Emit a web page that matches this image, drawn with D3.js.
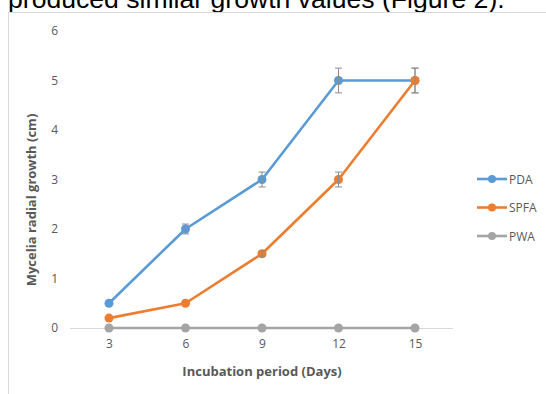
<!DOCTYPE html>
<html>
<head>
<meta charset="utf-8">
<script src="https://cdn.jsdelivr.net/npm/d3@7"></script>
<style>
  body { margin: 0; background: #fff; }
  svg { display: block; }
</style>
</head>
<body>
<svg id="chart" width="546" height="394"></svg>
<script>
// chart data
var days = [3, 6, 9, 12, 15];
var pda = [0.5, 2, 3, 5, 5];
var pdaErr = [0.02, 0.1, 0.15, 0.25, 0.25];
var spfa = [0.2, 0.5, 1.5, 3, 5];
var spfaErr = [0.02, 0.03, 0.05, 0.15, 0.25];
var pwa = [0, 0, 0, 0, 0];
var pwaErr = [0, 0, 0, 0, 0];
var yTicks = [0, 1, 2, 3, 4, 5, 6];

var seriesList = [
    {name: "PDA", values: pda, err: pdaErr, color: "#5b9bd5"},
    {name: "SPFA", values: spfa, err: spfaErr, color: "#ed7d31"},
    {name: "PWA", values: pwa, err: pwaErr, color: "#a5a5a5"}
];

var svg = d3.select("#chart");

// page text above the figure (cut off at the top, like the scan)
svg.append("text")
    .attr("x", 8)
    .attr("y", 8)
    .attr("font-family", "Liberation Sans, Arial, sans-serif")
    .attr("font-size", 26.6)
    .attr("fill", "#000")
    .text("produced similar growth values (Figure 2).");

// chart frame
svg.append("rect")
    .attr("x", 8.5)
    .attr("y", 12.5)
    .attr("width", 560)
    .attr("height", 400)
    .attr("fill", "#fff")
    .attr("stroke", "#d9d9d9");

var x = d3.scalePoint()
    .domain(days)
    .range([109, 415]);

var y = d3.scaleLinear()
    .domain([0, 6])
    .range([328, 31]);

var font = "'Open Sans', Lato, sans-serif";

// y axis tick labels
var yAxis = d3.axisLeft(y).tickValues(yTicks).tickFormat(d3.format("d")).tickSize(0).tickPadding(0);
var gy = svg.append("g")
    .attr("transform", "translate(58,0)")
    .call(yAxis);
gy.select(".domain").remove();
gy.selectAll("text")
    .attr("font-family", font)
    .attr("font-size", 12)
    .attr("fill", "#595959");

// x axis baseline + labels
var xAxis = d3.axisBottom(x).tickSize(0).tickPadding(11);
var gx = svg.append("g")
    .attr("transform", "translate(0," + y(0) + ")")
    .call(xAxis);
gx.select(".domain").remove();
gx.selectAll("text")
    .attr("font-family", font)
    .attr("font-size", 12)
    .attr("fill", "#595959");

svg.append("line")
    .attr("x1", 70)
    .attr("x2", 453)
    .attr("y1", y(0) + 0.5)
    .attr("y2", y(0) + 0.5)
    .attr("stroke", "#d9d9d9");

// axis titles
svg.append("text")
    .attr("x", 262)
    .attr("y", 376)
    .attr("text-anchor", "middle")
    .attr("font-family", font)
    .attr("font-size", 13)
    .attr("font-weight", "bold")
    .attr("fill", "#595959")
    .text("Incubation period (Days)");

svg.append("text")
    .attr("transform", "translate(36,200) rotate(-90)")
    .attr("text-anchor", "middle")
    .attr("font-family", font)
    .attr("font-size", 13)
    .attr("font-weight", "bold")
    .attr("fill", "#595959")
    .text("Mycelia radial growth (cm)");

var line = d3.line()
    .x(function(d, i) { return x(days[i]); })
    .y(function(d) { return y(d); });

// series drawn bottom-up so PDA sits under SPFA at 15
var order = [seriesList[2], seriesList[0], seriesList[1]];
order.forEach(function(s) {
    var g = svg.append("g");

    g.append("path")
        .datum(s.values)
        .attr("d", line)
        .attr("fill", "none")
        .attr("stroke", s.color)
        .attr("stroke-width", 2.6)
        .attr("stroke-linejoin", "round");

    g.selectAll("circle")
        .data(s.values)
        .enter()
        .append("circle")
        .attr("cx", function(d, i) { return x(days[i]); })
        .attr("cy", function(d) { return y(d); })
        .attr("r", 4.5)
        .attr("fill", s.color);

    // error bars
    s.values.forEach(function(v, i) {
        var e = s.err[i];
        if (e < 0.04) return;
        var cx = x(days[i]);
        var eg = g.append("g")
            .attr("stroke", "#8c8c8c")
            .attr("stroke-width", 1);
        eg.append("line")
            .attr("x1", cx).attr("x2", cx)
            .attr("y1", y(v - e)).attr("y2", y(v + e));
        [v - e, v + e].forEach(function(t) {
            eg.append("line")
                .attr("x1", cx - 3.5).attr("x2", cx + 3.5)
                .attr("y1", y(t)).attr("y2", y(t));
        });
    });
});

// legend
var legend = svg.append("g");
seriesList.forEach(function(s, i) {
    var ly = 179 + i * 28.5;
    legend.append("line")
        .attr("x1", 477).attr("x2", 507)
        .attr("y1", ly).attr("y2", ly)
        .attr("stroke", s.color)
        .attr("stroke-width", 2.6);
    legend.append("circle")
        .attr("cx", 492).attr("cy", ly)
        .attr("r", 4)
        .attr("fill", s.color);
    legend.append("text")
        .attr("x", 509)
        .attr("y", ly + 4.5)
        .attr("font-family", font)
        .attr("font-size", 12)
        .attr("fill", "#595959")
        .text(s.name);
});
</script>
</body>
</html>
